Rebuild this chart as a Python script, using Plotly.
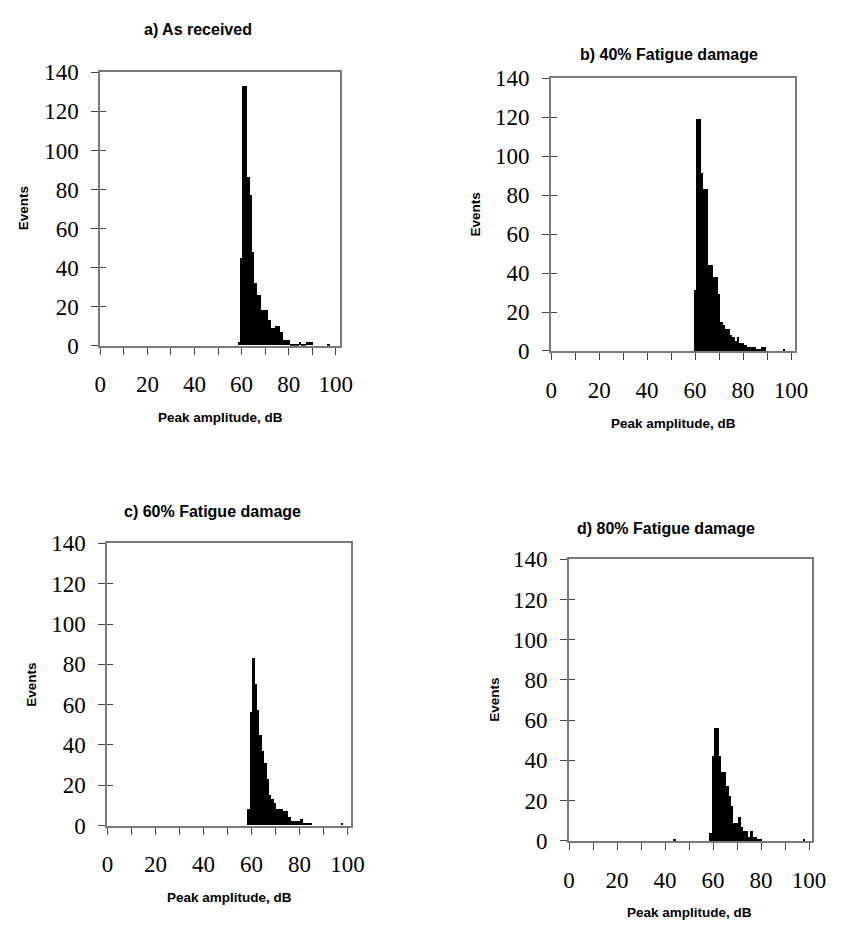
import plotly.graph_objects as go

W, H = 847, 934

# ---------------- data (peak amplitude in dB, event counts) ----------------
AMP_A = [59, 60, 61, 62, 63, 64, 65, 66, 67, 68, 69, 70, 71, 72, 73, 74, 75, 76, 77, 78,
         79, 80, 81, 82, 83, 84, 85, 86, 87, 88, 89, 90, 97]
EVENTS_A = [2, 45, 133, 133, 86, 77, 48, 32, 26, 26, 18, 18, 18, 13, 9, 9, 10, 10, 7, 3,
            3, 3, 1, 1, 1, 1, 2, 1, 1, 2, 2, 2, 1]

AMP_B = [60, 61, 62, 63, 64, 65, 66, 67, 68, 69, 70, 71, 72, 73, 74, 75, 76, 77, 78, 79,
         80, 81, 82, 83, 84, 85, 86, 87, 88, 89, 97]
EVENTS_B = [31, 119, 119, 91, 83, 83, 44, 44, 38, 38, 29, 15, 13, 11, 11, 8, 7, 5, 7, 4,
            4, 3, 2, 2, 2, 2, 1, 1, 2, 2, 1]

AMP_C = [59, 60, 61, 62, 63, 64, 65, 66, 67, 68, 69, 70, 71, 72, 73, 74, 75, 76, 77, 78,
         79, 80, 81, 82, 83, 84, 85, 98]
EVENTS_C = [8, 56, 83, 70, 57, 45, 37, 31, 23, 15, 13, 11, 8, 8, 8, 7, 7, 4, 2, 2,
            2, 2, 3, 1, 1, 1, 1, 1]

AMP_D = [44, 59, 60, 61, 62, 63, 64, 65, 66, 67, 68, 69, 70, 71, 72, 73, 74, 75, 76, 77,
         78, 79, 80, 98]
EVENTS_D = [1, 4, 42, 56, 56, 42, 34, 34, 27, 22, 17, 9, 9, 12, 7, 5, 5, 2, 5, 2,
            2, 1, 1, 1]

PANEL_TITLES = ["a) As received", "b) 40% Fatigue damage",
                "c) 60% Fatigue damage", "d) 80% Fatigue damage"]
X_TICKS = [0, 10, 20, 30, 40, 50, 60, 70, 80, 90, 100]
X_TICK_TEXT = ["0", "", "20", "", "40", "", "60", "", "80", "", "100"]
Y_TICKS = [0, 20, 40, 60, 80, 100, 120, 140]
X_TITLE = "Peak amplitude, dB"
Y_TITLE = "Events"

# ---------------- layout geometry (pixels) ----------------
# (left, right, top, bottom, xmax)
PANELS = [
    (96.7, 343.0, 62.0, 343.0, 102.0),
    (559.0, 809.0, 68.0, 348.3, 101.6),
    (104.0, 354.0, 546.0, 836.0, 101.6),
    (577.4, 826.0, 562.3, 851.7, 101.0),
]
TITLE_POS = [(197, 18), (680, 44), (212, 513), (677, 531)]
XTITLE_POS = [(220, 417), (684, 423), (229, 910), (701, 925)]
YTITLE_POS = [(18, 202), (481, 208), (26, 691), (500, 707)]

SERIF = "Liberation Serif"
SANS = "Liberation Sans"


def px(x):
    return x / W


def py(y):
    return 1 - y / H


data = [(AMP_A, EVENTS_A), (AMP_B, EVENTS_B), (AMP_C, EVENTS_C), (AMP_D, EVENTS_D)]

fig = go.Figure()
layout = dict(
    width=W, height=H, margin=dict(l=0, r=0, t=0, b=0),
    paper_bgcolor="white", plot_bgcolor="white", showlegend=False,
    bargap=0, annotations=[],
)

frame_col = "#7a7a7a"

for i, ((amp, ev), (l, r, t, b, xmax)) in enumerate(zip(data, PANELS)):
    n = i + 1
    xa = "x" if n == 1 else f"x{n}"
    ya = "y" if n == 1 else f"y{n}"
    fig.add_trace(go.Bar(
        x=amp, y=ev, xaxis=xa, yaxis=ya, width=1.0,
        marker=dict(color="black", line=dict(width=0)),
    ))
    # overlay axis for inward half of cross ticks on y
    yo = f"y{n + 4}"
    fig.add_trace(go.Scatter(x=[None], y=[None], xaxis=xa, yaxis=yo, mode="markers"))

    layout[f"xaxis{'' if n == 1 else n}"] = dict(
        domain=[px(l), px(r)], anchor=ya, range=[0, xmax],
        tickmode="array", tickvals=X_TICKS, ticktext=X_TICK_TEXT,
        ticks="outside", ticklen=7, tickwidth=1, tickcolor="#444",
        showline=True, linecolor=frame_col, linewidth=2, mirror=True,
        showgrid=False, zeroline=False,
        tickfont=dict(family=SERIF, size=23, color="black"),
        ticklabelstandoff=10,
    )
    layout[f"yaxis{'' if n == 1 else n}"] = dict(
        domain=[py(b), py(t)], anchor=xa, range=[0, 140],
        tickmode="array", tickvals=Y_TICKS,
        ticks="outside", ticklen=7, tickwidth=1, tickcolor="#444",
        showline=True, linecolor=frame_col, linewidth=2, mirror=True,
        showgrid=False, zeroline=False,
        tickfont=dict(family=SERIF, size=23, color="black"),
        ticklabelstandoff=8,
    )
    layout[f"yaxis{n + 4}"] = dict(
        domain=[py(b), py(t)], anchor=xa, overlaying=ya, range=[0, 140],
        tickmode="array", tickvals=Y_TICKS[1:-1],
        ticks="inside", ticklen=6, tickwidth=1, tickcolor="#444",
        showline=False, showgrid=False, zeroline=False, showticklabels=False,
    )

    tx, ty = TITLE_POS[i]
    layout["annotations"].append(dict(
        x=px(tx), y=py(ty), xref="paper", yref="paper", showarrow=False,
        text=f"<b>{PANEL_TITLES[i]}</b>", font=dict(family=SANS, size=16, color="black"),
        xanchor="center", yanchor="middle"))
    ax_, ay_ = XTITLE_POS[i]
    layout["annotations"].append(dict(
        x=px(ax_), y=py(ay_), xref="paper", yref="paper", showarrow=False,
        text=f"<b>{X_TITLE}</b>", font=dict(family=SANS, size=13.5, color="black"),
        xanchor="center", yanchor="middle"))
    yx, yy = YTITLE_POS[i]
    layout["annotations"].append(dict(
        x=px(yx), y=py(yy), xref="paper", yref="paper", showarrow=False,
        text=f"<b>{Y_TITLE}</b>", textangle=-90,
        font=dict(family=SANS, size=13.5, color="black"),
        xanchor="center", yanchor="middle"))

fig.update_layout(**layout)
fig.write_html("out.html")
